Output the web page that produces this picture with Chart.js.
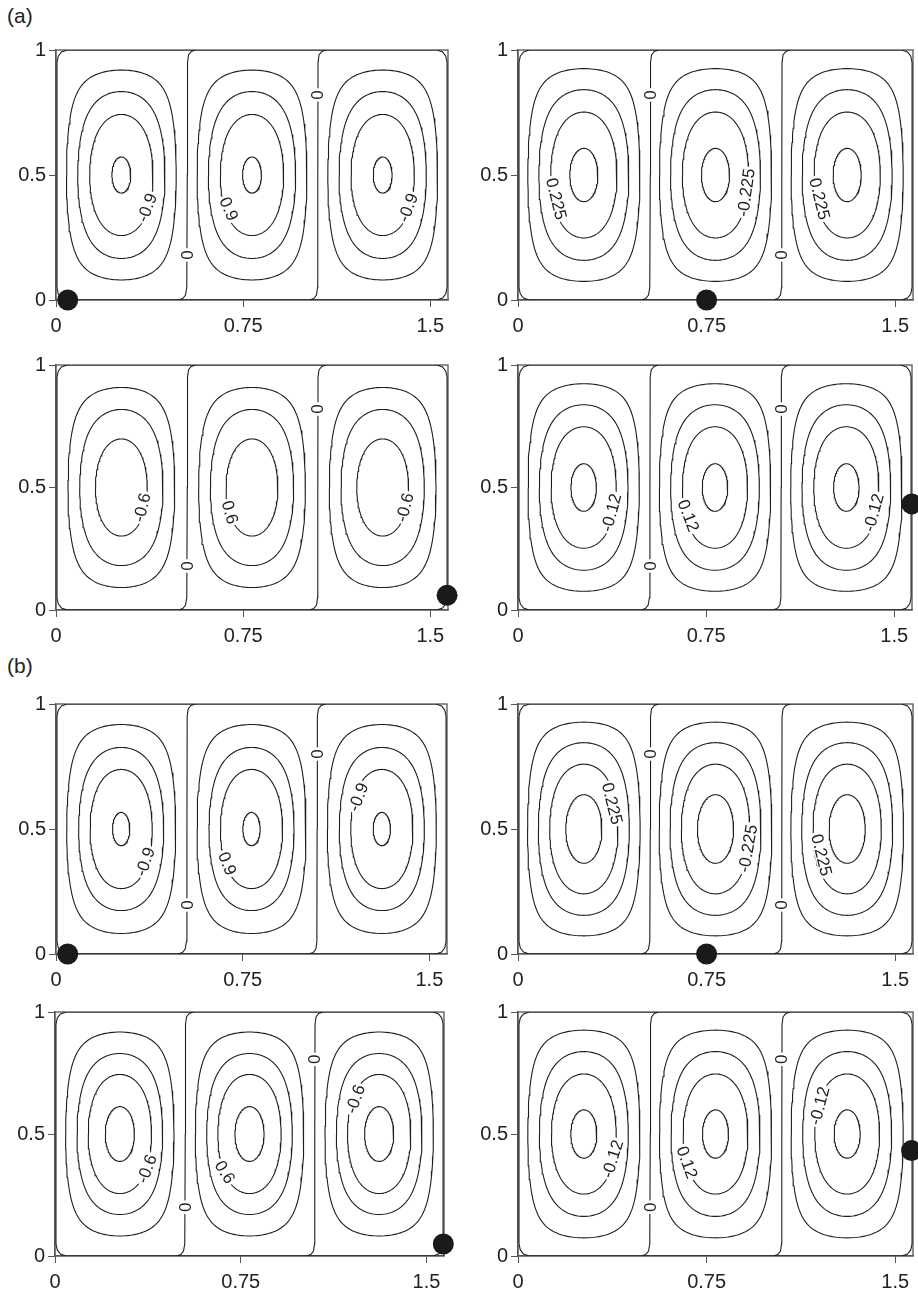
<!DOCTYPE html>
<html>
<head>
<meta charset="utf-8">
<script src="https://cdn.jsdelivr.net/npm/chart.js@4.4.1/dist/chart.umd.min.js"></script>
<style>
body { margin: 0; background: #fff; width: 918px; height: 1299px; overflow: hidden; position: relative;
       font-family: "Liberation Sans", Arial, sans-serif; }
canvas { position: absolute; }
.tag { position: absolute; font-size: 21px; line-height: 24px; color: #222; }
</style>
</head>
<body>
<div class="tag" style="left:7px;top:4px">(a)</div>
<div class="tag" style="left:7px;top:654px">(b)</div>
<script>
// axes
const xTicks = [0, 0.75, 1.5];
const yTicks = [0, 0.5, 1];
const xMax = 1.5708;

// three cells side by side
const cellCentres = [0.2618, 0.7854, 1.309];
const cellHalf = 0.2618;

// closed contours: inset of each loop from its cell wall, outer -> inner
const loopsA1 = [0.042, 0.087, 0.135, 0.224];
const loopsA2 = [0.039, 0.083, 0.130, 0.206];
const loopsA3 = [0.048, 0.095, 0.158];
const loopsA4 = [0.040, 0.085, 0.132, 0.211];
const loopsB1 = [0.043, 0.091, 0.137, 0.227];
const loopsB2 = [0.038, 0.081, 0.126, 0.190];
const loopsB3 = [0.043, 0.089, 0.134, 0.203];
const loopsB4 = [0.039, 0.085, 0.133, 0.210];

// the "0" contour: two cell walls and the rim of the box
const zeroWallA = [[0.49,0],[0.508,0.006],[0.519,0.02],[0.524,0.05],[0.526,0.5],[0.527,0.95],[0.531,0.98],[0.542,0.994],[0.56,1]];
const zeroWallB = [[1.015,0],[1.033,0.006],[1.044,0.02],[1.048,0.05],[1.049,0.5],[1.05,0.95],[1.054,0.98],[1.065,0.994],[1.083,1]];
const zeroRim = [[0.045,1],[0.022,0.992],[0.009,0.975],[0.004,0.95],[0.004,0.05],[0.009,0.025],[0.022,0.008],[0.045,0],
                 [1.526,0],[1.549,0.008],[1.562,0.025],[1.567,0.05],[1.567,0.95],[1.562,0.975],[1.549,0.992],[1.526,1],[0.045,1]];

// contour labels: text, x, y, angle (deg)
const textA1 = [["0",0.526,0.18,-90],["0",1.049,0.82,-90],["-0.9",0.364,0.37,-69],["0.9",0.693,0.365,67],["-0.9",1.41,0.37,-69]];
const textA2 = [["0",0.526,0.82,-90],["0",1.049,0.18,-90],["0.225",0.153,0.405,76],["-0.225",0.906,0.43,-82],["0.225",1.20,0.405,76]];
const textA3 = [["0",0.526,0.18,-90],["0",1.049,0.82,-90],["-0.6",0.344,0.419,-76],["0.6",0.698,0.399,74],["-0.6",1.397,0.419,-76]];
const textA4 = [["0",0.526,0.18,-90],["0",1.049,0.82,-90],["-0.12",0.371,0.398,-75],["0.12",0.68,0.385,69],["-0.12",1.417,0.398,-75]];
const textB1 = [["0",0.526,0.196,-90],["0",1.049,0.80,-90],["-0.9",0.357,0.369,-70],["0.9",0.689,0.362,68],["-0.9",1.214,0.628,-69]];
const textB2 = [["0",0.526,0.80,-90],["0",1.049,0.196,-90],["0.225",0.375,0.602,76],["-0.225",0.913,0.422,-80],["0.225",1.208,0.396,76]];
const textB3 = [["0",0.526,0.2,-90],["0",1.049,0.806,-90],["-0.6",0.37,0.357,-69],["0.6",0.687,0.344,58],["-0.6",1.212,0.643,-71]];
const textB4 = [["0",0.526,0.2,-90],["0",1.049,0.806,-90],["-0.12",0.375,0.398,-73],["0.12",0.673,0.384,70],["-0.12",1.198,0.616,-75]];

// black dot in each panel
const dotA1 = [0.047, 0];
const dotA2 = [0.75, 0];
const dotA3 = [1.567, 0.06];
const dotA4 = [1.57, 0.433];
const dotB1 = [0.047, 0];
const dotB2 = [0.75, 0];
const dotB3 = [1.568, 0.049];
const dotB4 = [1.565, 0.432];

// plot boxes on the page: left, top, width, height
const panels = [
  { box: [56, 49, 392, 251],   loops: loopsA1, text: textA1, dot: dotA1 },
  { box: [518, 49, 395, 251],  loops: loopsA2, text: textA2, dot: dotA2 },
  { box: [56, 364, 392, 246],  loops: loopsA3, text: textA3, dot: dotA3 },
  { box: [518, 364, 394, 246], loops: loopsA4, text: textA4, dot: dotA4 },
  { box: [56, 703, 391, 251],  loops: loopsB1, text: textB1, dot: dotB1 },
  { box: [518, 703, 395, 251], loops: loopsB2, text: textB2, dot: dotB2 },
  { box: [55, 1011, 389, 245], loops: loopsB3, text: textB3, dot: dotB3 },
  { box: [518, 1011, 395, 245],loops: loopsB4, text: textB4, dot: dotB4 },
];

const PL = 52, PT = 14, PR = 14, PB = 40;
const ink = "#1e1e1e";
Chart.defaults.font.family = '"Liberation Sans", Arial, sans-serif';

// trace one cell loop (cellular flow shape) with the given wall inset
function loopPoints(cx, inset) {
  const a = inset * 6;
  const k = Math.sin(a);
  const top = [], bot = [];
  const n = 70;
  for (let i = 0; i <= n; i++) {
    const t = Math.PI * i / n;
    const u = a + (Math.PI - 2 * a) * (1 - Math.cos(t)) / 2;
    const v = Math.asin(Math.min(1, k / Math.sin(u)));
    const x = cx - cellHalf + u / 6;
    top.push({ x: x, y: 1 - v / Math.PI });
    bot.push({ x: x, y: v / Math.PI });
  }
  return top.concat(bot.reverse());
}

function lineSet(points) {
  return { data: points, showLine: true, pointRadius: 0, borderColor: ink, borderWidth: 1.1,
           tension: 0, order: 1 };
}

// white-backed labels sitting on the contours
const contourText = {
  id: "contourText",
  afterDatasetsDraw(chart, args, opts) {
    const { ctx } = chart;
    const sx = chart.scales.x, sy = chart.scales.y;
    ctx.save();
    ctx.font = '17px "Liberation Sans", Arial, sans-serif';
    ctx.textAlign = "center";
    ctx.textBaseline = "middle";
    opts.items.forEach(l => {
      ctx.save();
      ctx.translate(sx.getPixelForValue(l[1]), sy.getPixelForValue(l[2]));
      ctx.rotate(l[3] * Math.PI / 180);
      const w = ctx.measureText(l[0]).width;
      ctx.fillStyle = "#fff";
      ctx.fillRect(-w / 2 - 2, -7, w + 4, 14);
      ctx.fillStyle = "#222";
      ctx.fillText(l[0], 0, 1);
      ctx.restore();
    });
    ctx.restore();
  }
};

// closes the box on top and right
const boxFrame = {
  id: "boxFrame",
  beforeDatasetsDraw(chart) {
    const { ctx, chartArea: a } = chart;
    ctx.save();
    ctx.strokeStyle = "#555";
    ctx.lineWidth = 1.3;
    ctx.strokeRect(a.left, a.top, a.right - a.left, a.bottom - a.top);
    ctx.restore();
  }
};

panels.forEach(p => {
  const [L, T, W, H] = p.box;
  const canvas = document.createElement("canvas");
  canvas.width = W + PL + PR;
  canvas.height = H + PT + PB;
  canvas.style.left = (L - PL) + "px";
  canvas.style.top = (T - PT) + "px";
  document.body.appendChild(canvas);

  const datasets = [{
    data: [{ x: p.dot[0], y: p.dot[1] }], pointRadius: 10.5, pointBackgroundColor: "#1a1a1a",
    pointBorderWidth: 0, showLine: false, clip: false, order: 0
  }];
  cellCentres.forEach(cx => p.loops.forEach(ins => datasets.push(lineSet(loopPoints(cx, ins)))));
  [zeroWallA, zeroWallB, zeroRim].forEach(path =>
    datasets.push(lineSet(path.map(([x, y]) => ({ x, y })))));

  new Chart(canvas, {
    type: "scatter",
    data: { datasets },
    options: {
      responsive: false,
      animation: false,
      devicePixelRatio: 1,
      layout: { padding: { top: PT, right: PR, left: 0, bottom: 0 } },
      plugins: { legend: { display: false }, tooltip: { enabled: false }, contourText: { items: p.text } },
      scales: {
        x: {
          type: "linear", min: 0, max: xMax,
          afterBuildTicks: s => { s.ticks = xTicks.map(v => ({ value: v })); },
          afterFit: s => { s.height = PB; },
          ticks: { autoSkip: false, maxRotation: 0, padding: 7, color: "#222", font: { size: 20 },
                   callback: v => String(v) },
          grid: { drawOnChartArea: false, tickLength: 7, color: "#555" },
          border: { color: "#555", width: 1.3 }
        },
        y: {
          type: "linear", min: 0, max: 1,
          afterBuildTicks: s => { s.ticks = yTicks.map(v => ({ value: v })); },
          afterFit: s => { s.width = PL; },
          ticks: { autoSkip: false, padding: 3, color: "#222", font: { size: 20 },
                   callback: v => String(v) },
          grid: { drawOnChartArea: false, tickLength: 7, color: "#555" },
          border: { color: "#555", width: 1.3 }
        }
      }
    },
    plugins: [contourText, boxFrame]
  });
});
</script>
</body>
</html>
